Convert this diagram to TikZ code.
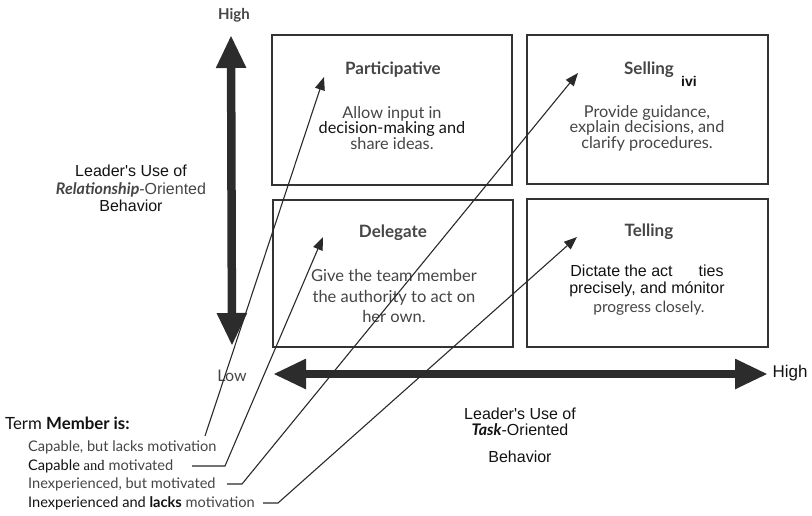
\documentclass[tikz,border=0pt]{standalone}
\usepackage{fontspec}
\setmainfont{Lato}
\newfontfamily\arialfont{Liberation Sans}
\newfontfamily\timesfont{Liberation Serif}
\usetikzlibrary{arrows.meta}
\definecolor{inkgray}{HTML}{454545}
\definecolor{inkdark}{HTML}{121212}
\definecolor{axisdark}{HTML}{2C2C2C}
\definecolor{framegray}{HTML}{333333}
\definecolor{wiregray}{HTML}{2A2A2A}

\begin{document}
\begin{tikzpicture}[x=1pt,y=-1pt,
  quad/.style={draw=framegray, line width=2pt, inner sep=0pt},
  quadtitle/.style={text=inkgray, inner sep=0pt, font=\fontsize{17}{18}\selectfont\bfseries},
  quadbody/.style={text=inkgray, inner sep=0pt, align=center},
  axislabel/.style={text=inkdark, inner sep=0pt, align=center, font=\arialfont\fontsize{16}{17.5}\selectfont},
  listlabel/.style={text=inkgray, inner sep=0pt, anchor=west, font=\fontsize{14.6}{16}\selectfont},
  axisarrow/.style={draw=axisdark, line width=8.5pt,
    {Triangle[length=33pt,width=28pt]}-{Triangle[length=33pt,width=28pt]}},
  pointer/.style={draw=wiregray, line width=1.1pt, -{Triangle[length=13pt,width=10pt]}}]

\useasboundingbox (0,0) rectangle (812,515);

% the four style quadrants
\node[quad, minimum width=240pt, minimum height=150pt] (partbox) at (392,110) {};
\node[quad, minimum width=240pt, minimum height=147pt] (delbox) at (393,273.5) {};
\node[quad, minimum width=241pt, minimum height=149pt] (sellbox) at (647.5,109.5) {};
\node[quad, minimum width=241pt, minimum height=148pt] (tellbox) at (647.5,273) {};

% quadrant titles
\node[quadtitle] (parttitle) at (393,70) {Participative};
\node[quadtitle] (selltitle) at (649,70) {Selling};
\node[inner sep=0pt, text=inkdark, font=\arialfont\fontsize{14}{15}\selectfont\bfseries] (sellmark) at (689,81) {ivi};
\node[quadtitle] (deltitle) at (393,233) {Delegate};
\node[quadtitle] (telltitle) at (649,232) {Telling};

% quadrant descriptions
\node[quadbody, font=\fontsize{16.3}{14.5}\selectfont] (partbody) at (392,128)
  {Allow input in\\\textcolor{inkdark}{decision-making and}\\share ideas.};
\node[quadbody, font=\fontsize{16.3}{15.5}\selectfont] (sellbody) at (647,128)
  {Provide guidance,\\explain decisions, and\\clarify procedures.};
\node[quadbody, font=\fontsize{16.5}{20.7}\selectfont] (delbody) at (394,296)
  {Give the team member\\the authority to act on\\her own.};
\node[quadbody, text=inkdark, font=\arialfont\fontsize{16}{17}\selectfont] (tellbody) at (647,281)
  {Dictate the act\hspace{26pt}ties\\precisely, and mónitor};
\node[quadbody, font=\fontsize{15.5}{17}\selectfont] (tellbody2) at (649,308) {progress closely.};

% axes
\coordinate (ytop) at (231,35);
\coordinate (ybot) at (232,346);
\draw[axisarrow] (ybot) -- (ytop);
\coordinate (xleft) at (273,374);
\coordinate (xright) at (768,374);
\draw[axisarrow] (xleft) -- (xright);

\node[inner sep=0pt, text=inkgray, font=\fontsize{15}{16}\selectfont\bfseries] (yhigh) at (234,15) {High};
\node[inner sep=0pt, text=inkgray, font=\fontsize{16}{17}\selectfont] (ylow) at (232,376) {Low};
\node[inner sep=0pt, text=inkdark, font=\arialfont\fontsize{17}{18}\selectfont] (xhigh) at (790,373) {High};

\node[axislabel] (ylabel) at (131,188.5)
  {Leader's Use of\\\textcolor{inkgray}{{\rmfamily\bfseries\itshape Relationship}-Oriented}\\Behavior};
\node[axislabel] (xlabel1) at (520,414) {Leader's Use of};
\node[axislabel] (xlabel2) at (520,430) {{\rmfamily\bfseries\itshape Task}-Oriented};
\node[axislabel] (xlabel3) at (520,457) {Behavior};

% team member readiness list
\node[inner sep=0pt, anchor=west, text=inkdark, font=\fontsize{16.8}{17}\selectfont] (listhead) at (5,423)
  {Term \textbf{Member is:}};
\node[listlabel] (readyA) at (28,447) {Capable, but lacks motivation};
\node[listlabel] (readyB) at (28,466) {\textcolor{inkdark}{Capable} \textcolor{inkdark}{\timesfont and} motivated};
\node[listlabel] (readyC) at (28,484) {Inexperienced, but motivated};
\node[listlabel] (readyD) at (28,503) {\textcolor{inkdark}{Inexperienced and \textbf{lacks}} motivation};

% connectors from each readiness level to its style
\coordinate (startA) at (205,436);
\coordinate (tipA) at (324,77);
\coordinate (startB) at (192,466);
\coordinate (bendB) at (225,466);
\coordinate (tipB) at (323,237);
\coordinate (startC) at (227,484);
\coordinate (bendC) at (242,484);
\coordinate (tipC) at (578,73);
\coordinate (startD) at (263,503);
\coordinate (bendD) at (278,503);
\coordinate (tipD) at (577,237);

\draw[pointer] (startA) -- (tipA);
\draw[pointer] (startB) -- (bendB) -- (tipB);
\draw[pointer] (startC) -- (bendC) -- (tipC);
\draw[pointer] (startD) -- (bendD) -- (tipD);
\end{tikzpicture}
\end{document}
